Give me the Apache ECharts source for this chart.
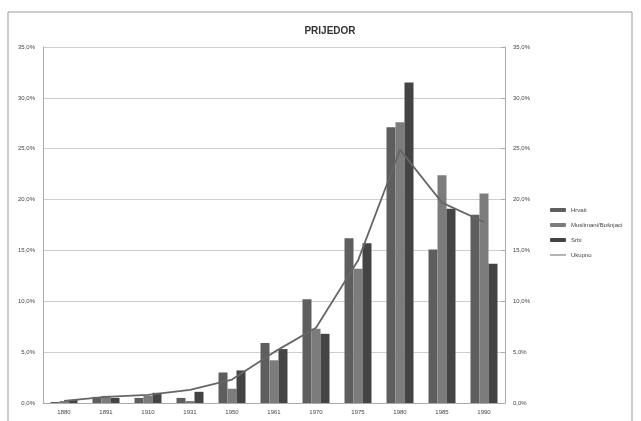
<!DOCTYPE html>
<html><head><meta charset="utf-8">
<script src="https://cdn.jsdelivr.net/npm/echarts@6/dist/echarts.min.js"></script>
<style>html,body{margin:0;padding:0;background:#fff}#c{width:641px;height:421px}</style>
</head><body><div id="c"></div>
<script>
const categories = ['1880','1891','1910','1931','1950','1961','1970','1975','1980','1985','1990'];
const hrvati     = [0.1, 0.6, 0.5, 0.5, 3.0, 5.9, 10.2, 16.2, 27.1, 15.1, 18.5];
const muslimani  = [0.2, 0.7, 0.7, 0.2, 1.4, 4.2, 7.3, 13.2, 27.6, 22.4, 20.6];
const srbi       = [0.3, 0.5, 1.0, 1.1, 3.2, 5.3, 6.8, 15.7, 31.5, 19.1, 13.7];
const ukupno     = [0.2, 0.6, 0.8, 1.3, 2.3, 5.0, 7.4, 14.0, 24.9, 19.7, 17.8];
const yTicks = [0,5,10,15,20,25,30,35];

const fmt = v => v.toFixed(1).replace('.', ',') + '%';
const chart = echarts.init(document.getElementById('c'));
const axisCommon = {
  type: 'value', min: 0, max: 35, interval: 5,
  axisLabel: { formatter: fmt, fontSize: 6, color: '#444', fontFamily: 'Liberation Sans' },
  axisLine: { show: true, lineStyle: { color: '#aaa' } },
  axisTick: { show: false }
};
chart.setOption({
  animation: false,
  graphic: [{ type: 'rect', shape: { x: 8, y: 12, width: 624, height: 420 },
    style: { fill: 'none', stroke: '#999', lineWidth: 1 } }],
  title: { text: 'PRIJEDOR', left: 325, top: 21, textAlign: 'center',
    textStyle: { fontSize: 10, fontWeight: 'bold', color: '#333', fontFamily: 'Liberation Sans' } },
  grid: { left: 43, right: 136, top: 47, bottom: 18 },
  legend: {
    orient: 'vertical', left: 545, top: 202, itemWidth: 16, itemHeight: 4, itemGap: 9,
    textStyle: { fontSize: 6, color: '#444', fontFamily: 'Liberation Sans' },
    data: ['Hrvati', 'Muslimani/Bošnjaci', 'Srbi',
      { name: 'Ukupno', icon: 'path://M0,0 L0,0 M0,1.5 L16,1.5 L16,2.5 L0,2.5 Z M16,4 L16,4' }]
  },
  xAxis: { type: 'category', data: categories,
    axisLabel: { fontSize: 6, color: '#444', margin: 6, fontFamily: 'Liberation Sans' },
    axisLine: { lineStyle: { color: '#aaa' } }, axisTick: { show: false } },
  yAxis: [
    Object.assign({}, axisCommon, { splitLine: { lineStyle: { color: '#cfcfcf' } } }),
    Object.assign({}, axisCommon, { splitLine: { show: false }, axisTick: { show: true, inside: true, length: 4, lineStyle: { color: '#aaa' } } })
  ],
  series: [
    { name: 'Hrvati', type: 'bar', data: hrvati, barWidth: 9, barGap: '0%', itemStyle: { color: '#5e5e5e' } },
    { name: 'Muslimani/Bošnjaci', type: 'bar', data: muslimani, barWidth: 9, barGap: '0%', itemStyle: { color: '#7c7c7c' } },
    { name: 'Srbi', type: 'bar', data: srbi, barWidth: 9, barGap: '0%', itemStyle: { color: '#444444' } },
    { name: 'Ukupno', type: 'line', yAxisIndex: 1, data: ukupno, showSymbol: false, symbol: 'none',
      lineStyle: { color: '#666666', width: 1.8 }, itemStyle: { color: '#666666' } }
  ]
});
</script></body></html>
